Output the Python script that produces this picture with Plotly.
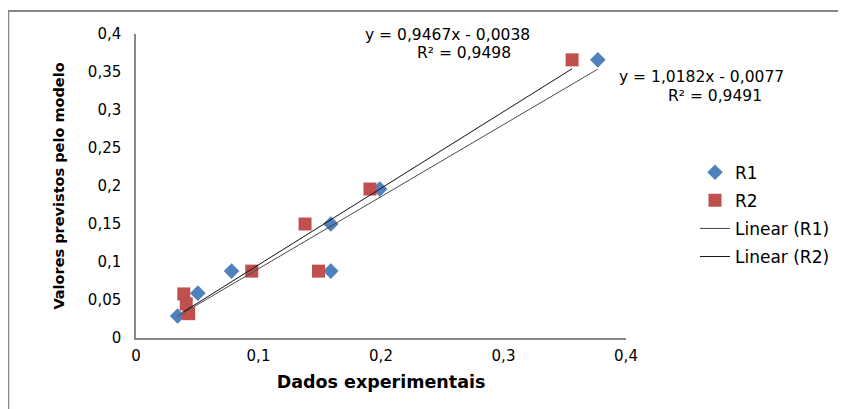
import numpy as np
import plotly.graph_objects as go

# Data
r1_x = [0.377, 0.199, 0.159, 0.159, 0.078, 0.0505, 0.034]
r1_y = [0.366, 0.196, 0.150, 0.088, 0.088, 0.059, 0.029]
r2_x = [0.356, 0.191, 0.138, 0.149, 0.0945, 0.039, 0.041, 0.043]
r2_y = [0.366, 0.196, 0.150, 0.088, 0.088, 0.058, 0.045, 0.032]

eq_r2 = ["y = 0,9467x - 0,0038", "R² = 0,9498"]
eq_r1 = ["y = 1,0182x - 0,0077", "R² = 0,9491"]

x_ticks = [0, 0.1, 0.2, 0.3, 0.4]
y_ticks = [0, 0.05, 0.1, 0.15, 0.2, 0.25, 0.3, 0.35, 0.4]

FONT = "DejaVu Sans, Liberation Sans, Arial, sans-serif"

def fit_line(xs, ys):
    m, b = np.polyfit(xs, ys, 1)
    xx = np.array([min(xs), max(xs)])
    return xx, m * xx + b

fig = go.Figure()
fig.add_trace(go.Scatter(x=r1_x, y=r1_y, mode="markers", name="R1", legendgroup="a",
                         marker=dict(symbol="diamond", size=12, color="#4F81BD")))
fig.add_trace(go.Scatter(x=r2_x, y=r2_y, mode="markers", name="R2", legendgroup="b",
                         marker=dict(symbol="square", size=13, color="#C0504D")))
lx1, ly1 = fit_line(r1_x, r1_y)
lx2, ly2 = fit_line(r2_x, r2_y)
fig.add_trace(go.Scatter(x=lx1, y=ly1, mode="lines", name="Linear (R1)", legendgroup="c",
                         line=dict(color="#4a4a4a", width=1)))
fig.add_trace(go.Scatter(x=lx2, y=ly2, mode="lines", name="Linear (R2)", legendgroup="d",
                         line=dict(color="#111111", width=1)))

ann_font = dict(family=FONT, size=15.5, color="#000000")
for (px, py, txt) in [(0.6354, 0.9967, eq_r2[0]), (0.670, 0.9375, eq_r2[1]),
                      (1.1548, 0.8586, eq_r1[0]), (1.181, 0.796, eq_r1[1])]:
    fig.add_annotation(x=px, y=py, xref="paper", yref="paper", text=txt,
                       showarrow=False, font=ann_font, xanchor="center", yanchor="middle")

# outer chart border
fig.add_shape(type="rect", xref="paper", yref="paper",
              x0=-0.2607, x1=1.46, y0=-0.25, y1=1.0757,
              line=dict(color="#888888", width=2), layer="below")

fig.update_layout(
    width=838, height=401,
    margin=dict(l=128, r=219, t=26, b=71),
    paper_bgcolor="white", plot_bgcolor="white",
    separators=",.",
    font=dict(family=FONT, size=15, color="#000000"),
    showlegend=True,
    legend=dict(x=1.1385, y=0.603, xanchor="left", yanchor="top",
                font=dict(family=FONT, size=17), bgcolor="rgba(0,0,0,0)",
                tracegroupgap=3),
    xaxis=dict(range=[0, 0.4], tickvals=x_ticks, showgrid=False, zeroline=False,
               showline=True, linecolor="#888888", linewidth=1.5, ticks="",
               tickfont=dict(size=15), ticklabelstandoff=3,
               title=dict(text="<b>Dados experimentais</b>", font=dict(size=17.5), standoff=12)),
    yaxis=dict(range=[0, 0.4], tickvals=y_ticks, showgrid=False, zeroline=False,
               showline=True, linecolor="#888888", linewidth=1.5, ticks="",
               tickfont=dict(size=15), ticklabelstandoff=10,
               title=dict(text="<b>Valores previstos pelo modelo</b>", font=dict(size=14.5), standoff=20)),
)

fig.write_html("out.html")
